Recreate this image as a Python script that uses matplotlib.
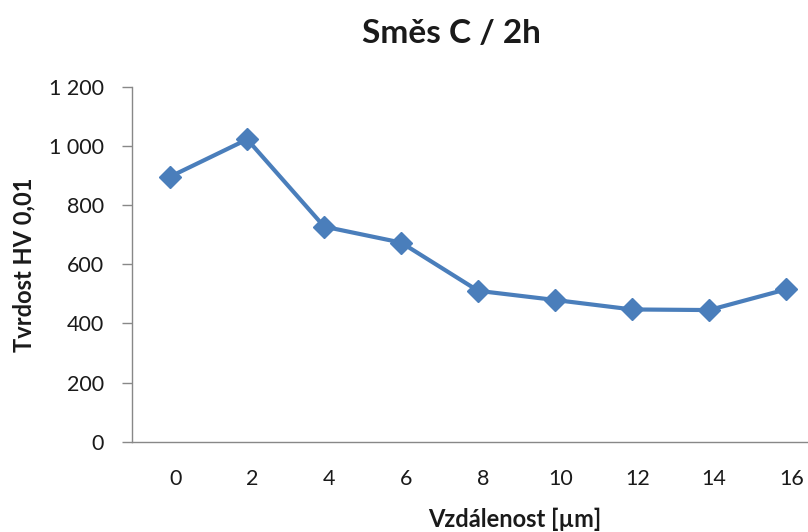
"""Hardness profile across the layer, Excel-like line chart."""
import matplotlib
matplotlib.use("Agg")
import matplotlib.pyplot as plt
from matplotlib.ticker import FuncFormatter, MultipleLocator
import matplotlib.transforms as mtransforms

# measured data
distance = ["0", "2", "4", "6", "8", "10", "12", "14", "16"]
hardness = [896, 1022, 727, 673, 510, 479, 447, 445, 515]

LINE = "#4A7EBB"
AXIS = "#888888"
TEXT = "#1A1A1A"
FONT = ["Lato", "DejaVu Sans"]

plt.rcParams["font.family"] = FONT

W, H = 808, 532
fig = plt.figure(figsize=(W / 100, H / 100), dpi=100)
# plot area runs a bit past the right edge of the canvas
ax = fig.add_axes([131.7 / W, 1 - 441.7 / H, 693 / W, 355 / H])

x = list(range(len(distance)))
ax.plot(x, hardness, color=LINE, linewidth=3.0, marker="D", markersize=11,
        markerfacecolor=LINE, markeredgecolor=LINE, solid_joinstyle="round")

ax.set_xlim(-0.5, len(distance) - 0.5)
ax.set_ylim(0, 1200)
ax.yaxis.set_major_locator(MultipleLocator(200))
ax.yaxis.set_major_formatter(FuncFormatter(lambda v, _: f"{int(v):,}".replace(",", " ")))
ax.set_xticks(x)
ax.set_xticklabels(distance)

for side in ("top", "right"):
    ax.spines[side].set_visible(False)
for side in ("left", "bottom"):
    ax.spines[side].set_color(AXIS)
    ax.spines[side].set_linewidth(1.0)

ax.tick_params(axis="y", direction="out", length=7, width=1.0, color=AXIS,
               labelsize=15.5, labelcolor=TEXT, pad=13)
ax.tick_params(axis="x", length=0, labelsize=15.5, labelcolor=TEXT, pad=20)

# category labels sit slightly right of their points
shift = mtransforms.ScaledTranslation(5 / 100, 0, fig.dpi_scale_trans)
for lbl in ax.get_xticklabels():
    lbl.set_transform(lbl.get_transform() + shift)

fig.text(515 / W, 1 - 527 / H, "Vzdálenost [µm]", ha="center", va="baseline",
         fontsize=17, fontweight="bold", color=TEXT)
fig.text(24 / W, 1 - 265 / H, "Tvrdost HV 0,01", ha="center", va="center",
         rotation=90, fontsize=17, fontweight="bold", color=TEXT)
fig.text(451 / W, 1 - 43 / H, "Směs C / 2h", ha="center", va="baseline",
         fontsize=24, fontweight="bold", color=TEXT)

fig.savefig("out.png", dpi=100, facecolor="white")
